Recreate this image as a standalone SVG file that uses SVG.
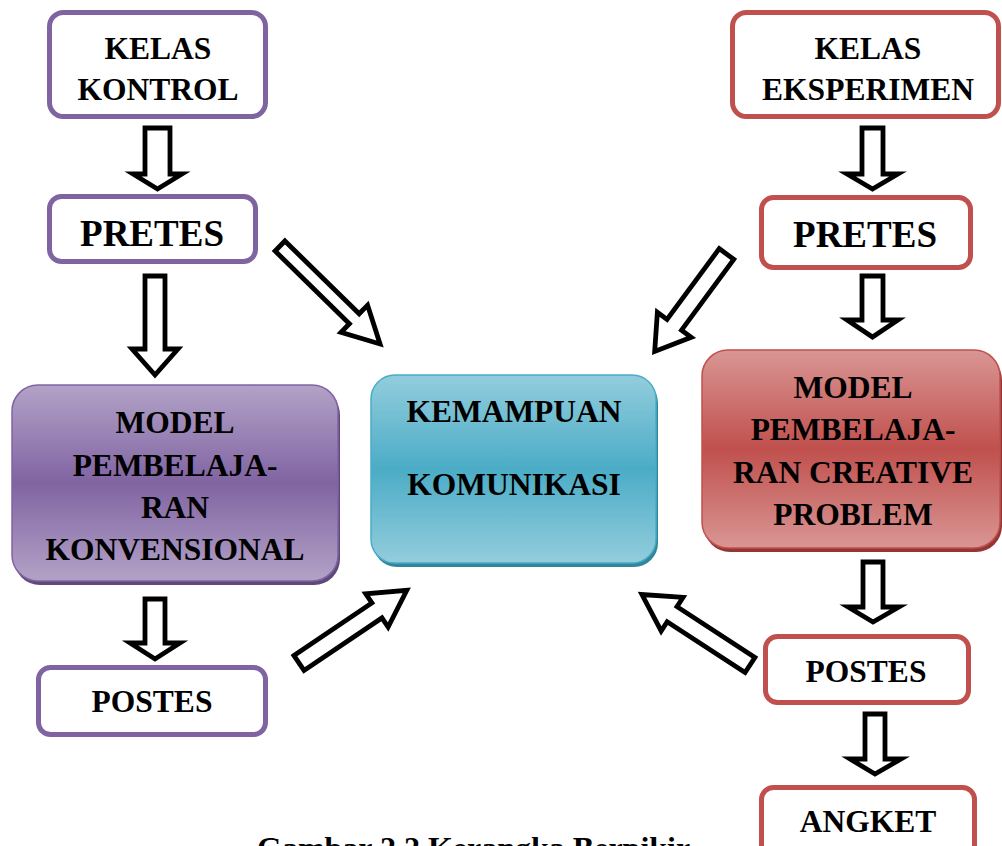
<svg xmlns="http://www.w3.org/2000/svg" width="1002" height="846" viewBox="0 0 1002 846">
<style>
.t{font-family:"Liberation Serif","Times New Roman",serif;font-weight:bold;font-size:31.5px;fill:#000;text-anchor:middle}
.big{font-size:37px}
.bp{fill:#fff;stroke:#8064a2;stroke-width:5}
.br{fill:#fff;stroke:#c0504d;stroke-width:5}
.arr{fill:#fff;stroke:#000;stroke-width:4.8;stroke-linejoin:miter}
</style>
<defs>
<linearGradient id="gp" x1="0" y1="0" x2="0" y2="1">
<stop offset="0" stop-color="#b3a2c7"/><stop offset="0.5" stop-color="#8064a2"/><stop offset="1" stop-color="#b3a2c7"/>
</linearGradient>
<linearGradient id="gb" x1="0" y1="0" x2="0" y2="1">
<stop offset="0" stop-color="#93cddd"/><stop offset="0.5" stop-color="#4bacc6"/><stop offset="1" stop-color="#93cddd"/>
</linearGradient>
<linearGradient id="gr" x1="0" y1="0" x2="0" y2="1">
<stop offset="0" stop-color="#d99694"/><stop offset="0.5" stop-color="#c0504d"/><stop offset="1" stop-color="#d99694"/>
</linearGradient>
</defs>
<rect width="1002" height="846" fill="#fff"/>

<g id="kelas-kontrol">
<rect class="bp" x="49.5" y="12.5" width="216" height="104" rx="14"/>
<text class="t" x="158" y="59">KELAS</text>
<text class="t" x="158" y="100">KONTROL</text>
</g>
<g id="pretes-kontrol">
<rect class="bp" x="49.5" y="196.5" width="206" height="65" rx="12"/>
<text class="t big" x="152" y="246">PRETES</text>
</g>
<g id="model-konvensional">
<rect x="14" y="389" width="326" height="196" rx="26" fill="#5f497a"/>
<rect x="12" y="385" width="326" height="196" rx="26" fill="url(#gp)" stroke="#8064a2" stroke-width="1.5"/>
<text class="t" x="175" y="433">MODEL</text>
<text class="t" x="175" y="476">PEMBELAJA-</text>
<text class="t" x="175" y="518">RAN</text>
<text class="t" x="175" y="560">KONVENSIONAL</text>
</g>
<g id="postes-kontrol">
<rect class="bp" x="38.5" y="667.5" width="227" height="67" rx="12"/>
<text class="t" x="152" y="712">POSTES</text>
</g>

<g id="kemampuan-komunikasi">
<rect x="373" y="379" width="285" height="188" rx="24" fill="#31859c"/>
<rect x="371" y="375" width="285" height="188" rx="24" fill="url(#gb)" stroke="#4bacc6" stroke-width="1.5"/>
<text class="t" x="514" y="422">KEMAMPUAN</text>
<text class="t" x="514" y="495">KOMUNIKASI</text>
</g>

<g id="kelas-eksperimen">
<rect class="br" x="732.5" y="12.5" width="266" height="104" rx="14"/>
<text class="t" x="868" y="59">KELAS</text>
<text class="t" x="868" y="100">EKSPERIMEN</text>
</g>
<g id="pretes-eksperimen">
<rect class="br" x="761.5" y="197.5" width="209" height="70" rx="12"/>
<text class="t big" x="865" y="247">PRETES</text>
</g>
<g id="model-cps">
<rect x="704" y="354" width="298" height="198" rx="26" fill="#943634"/>
<rect x="702" y="350" width="298" height="198" rx="26" fill="url(#gr)" stroke="#c0504d" stroke-width="1.5"/>
<text class="t" x="853" y="398">MODEL</text>
<text class="t" x="853" y="440">PEMBELAJA-</text>
<text class="t" x="853" y="483">RAN CREATIVE</text>
<text class="t" x="853" y="525">PROBLEM</text>
</g>
<g id="postes-eksperimen">
<rect class="br" x="765.5" y="636.5" width="203" height="66" rx="12"/>
<text class="t" x="866" y="682">POSTES</text>
</g>
<g id="angket">
<rect class="br" x="761.5" y="787.5" width="213" height="80" rx="12"/>
<text class="t" x="868" y="832">ANGKET</text>
</g>

<g id="connectors">
<polygon class="arr" points="145,128 170,128 170,174 182,174 157.5,189 133,174 145,174"/>
<polygon class="arr" points="145,276 165,276 165,349 178,349 155,375 132,349 145,349"/>
<polygon class="arr" points="145,599 165,599 165,643 180,643 155,659 130,643 145,643"/>
<polygon class="arr" points="862,128 883,128 883,174 898,174 872.5,189 847,174 862,174"/>
<polygon class="arr" points="862,276 883,276 883,320 898,320 872.5,337 847,320 862,320"/>
<polygon class="arr" points="863,562 883,562 883,607 899,607 873,622 848,607 863,607"/>
<polygon class="arr" points="865,714 885,714 885,759 901,759 875,774 850,759 865,759"/>
<polygon class="arr" transform="translate(280,246) rotate(44.4)" points="0,-7 104,-7 104,-19 140,0 104,19 104,7 0,7"/>
<polygon class="arr" transform="translate(299,663) rotate(-34)" points="0,-9 94,-9 94,-20 130,0 94,20 94,9 0,9"/>
<polygon class="arr" transform="translate(726.5,254) rotate(126.4)" points="0,-9 88,-9 88,-21 121,0 88,21 88,9 0,9"/>
<polygon class="arr" transform="translate(750,665) rotate(-146.9)" points="0,-9 93,-9 93,-20 129,0 93,20 93,9 0,9"/>
</g>

<text class="t" x="257" y="859" style="text-anchor:start;font-size:32px">Gambar 2.2 Kerangka Berpikir</text>
</svg>
